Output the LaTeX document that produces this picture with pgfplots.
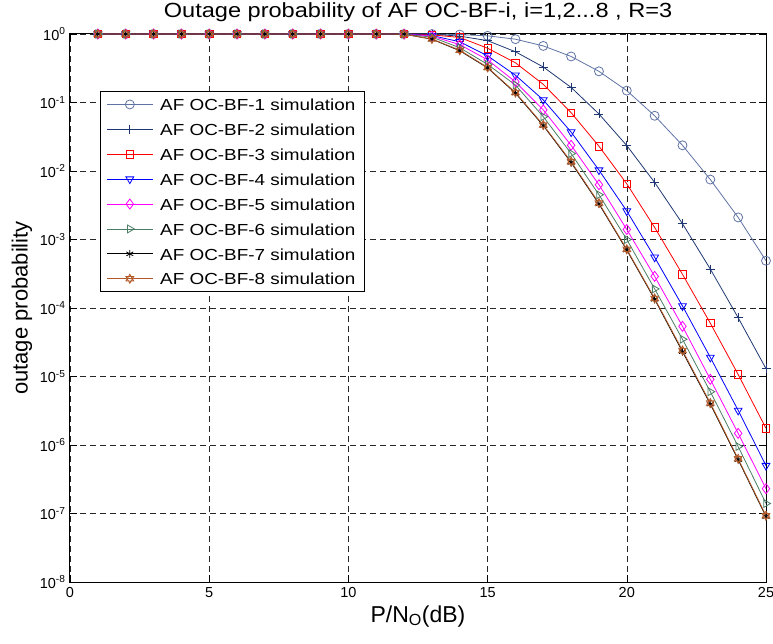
\documentclass[border=0pt]{standalone}
\usepackage{fontspec}
\setmainfont{Liberation Sans}
\newfontfamily\legfont[FakeStretch=1.18]{Liberation Sans}
\newfontfamily\titfont[FakeStretch=1.15]{Liberation Sans}
\usepackage{pgfplots}
\pgfplotsset{compat=1.18}
\usepackage{pgfplotstable}

\definecolor{cA}{RGB}{95,115,165}
\definecolor{cB}{RGB}{30,55,115}
\definecolor{cC}{RGB}{255,0,0}
\definecolor{cD}{RGB}{0,0,255}
\definecolor{cE}{RGB}{255,0,255}
\definecolor{cF}{RGB}{75,125,100}
\definecolor{cG}{RGB}{0,0,0}
\definecolor{cH}{RGB}{180,90,40}

\pgfdeclareplotmark{hexagram}{%
  \pgfpathmoveto{\pgfqpointpolar{90}{\pgfplotmarksize}}%
  \pgfpathlineto{\pgfqpointpolar{210}{\pgfplotmarksize}}%
  \pgfpathlineto{\pgfqpointpolar{330}{\pgfplotmarksize}}%
  \pgfpathclose
  \pgfpathmoveto{\pgfqpointpolar{270}{\pgfplotmarksize}}%
  \pgfpathlineto{\pgfqpointpolar{30}{\pgfplotmarksize}}%
  \pgfpathlineto{\pgfqpointpolar{150}{\pgfplotmarksize}}%
  \pgfpathclose
  \pgfusepathqstroke}

\pgfplotstableread{
x  c1      c2      c3      c4      c5      c6      c7      c8
1  1       1       1       1       1       1       1       1
2  1       1       1       1       1       1       1       1
3  1       1       1       1       1       1       1       1
4  1       1       1       1       1       1       1       1
5  1       1       1       1       1       1       1       1
6  1       1       1       1       1       1       1       1
7  1       1       1       1       1       1       1       1
8  1       1       1       1       1       1       1       1
9  1       1       1       1       1       1       1       1
10 1       1       1       1       1       1       1       1
11 1       1       1       1       1       1       1       1
12 1       1       1       0.999   0.997   0.995   0.995   0.995
13 1       0.995   0.97    0.95    0.93    0.90    0.84    0.845
14 0.98    0.93    0.89    0.77    0.70    0.63    0.57    0.58
15 0.94    0.80    0.62    0.48    0.42    0.36    0.32    0.325
16 0.84    0.55    0.38    0.25    0.20    0.18    0.137   0.14
17 0.67    0.33    0.184   0.109   0.078   0.062   0.046   0.047
18 0.47    0.166   0.071   0.037   0.0237  0.018   0.0133  0.0137
19 0.285   0.068   0.023   0.0103  0.0063  0.0045  0.0033  0.0034
20 0.149   0.0235  0.0065  0.0026  0.0014  1.0e-3  7.0e-4  7.2e-4
21 0.064   0.0068  0.0015  5.5e-4  2.9e-4  1.9e-4  1.34e-4 1.38e-4
22 0.0237  0.0017  3.1e-4  1.07e-4 5.4e-5  3.5e-5  2.3e-5  2.4e-5
23 0.0075  3.7e-4  6.0e-5  1.9e-5  9.1e-6  6.0e-6  3.95e-6 4.1e-6
24 0.0021  7.2e-5  1.07e-5 3.2e-6  1.48e-6 9.5e-7  6.1e-7  6.3e-7
25 4.9e-4  1.3e-5  1.75e-6 5.0e-7  2.3e-7  1.4e-7  9.0e-8  9.3e-8
}\data

\begin{document}
\begin{tikzpicture}
\begin{axis}[
  name=ax,
  scale only axis, width=696pt, height=548pt,
  xmin=0, xmax=25,
  ymode=log, log basis y=10, ymin=1e-8, ymax=1,
  clip=false,
  xtick={0,5,10,15,20,25},
  xticklabels={0,5,10,15,20,25},
  ytick={1e-8,1e-7,1e-6,1e-5,1e-4,1e-3,1e-2,1e-1,1},
  yticklabels={10\textsuperscript{-8},10\textsuperscript{-7},10\textsuperscript{-6},10\textsuperscript{-5},10\textsuperscript{-4},10\textsuperscript{-3},10\textsuperscript{-2},10\textsuperscript{-1},10\textsuperscript{0}},
  grid=both,
  major grid style={black!85, dash pattern=on 6pt off 4pt, line width=0.6pt},
  minor grid style={black!55, dash pattern=on 1.2pt off 8pt, line width=0.6pt},
  tick style={black, line width=0.6pt},
  major tick length=7pt, minor tick length=4pt,
  axis line style={black, line width=1pt},
  tick label style={font=\fontsize{14.5}{16}\selectfont},
  xticklabel style={yshift=-2pt},
  yticklabel style={xshift=-1pt},
  title={Outage probability of AF OC-BF-i, i=1,2...8 , R=3},
  title style={font=\titfont\fontsize{20.5}{22}\selectfont, at={(axis description cs:0.5,1)}, anchor=base, yshift=10.5pt},
  xlabel={P/N\textsubscript{O}(dB)},
  xlabel style={font=\fontsize{23}{25}\selectfont, at={(axis description cs:0.5,0)}, anchor=base, yshift=-40pt},
  ylabel={outage probability},
  ylabel style={font=\fontsize{22}{24}\selectfont, at={(axis description cs:-0.069,0.5)}, anchor=center},
  legend style={at={(axis description cs:0.043,0.896)}, anchor=north west,
    font=\legfont\fontsize{16}{18}\selectfont, draw=black, line width=1pt, fill=white,
    inner xsep=6pt, inner ysep=0.5pt, column sep=3.5pt,
    nodes={inner xsep=3.5pt, inner ysep=6.2pt, text height=12.5pt, text depth=0pt}},
  legend cell align=left,
  legend image code/.code={\draw[mark repeat=2,mark phase=2] plot coordinates {(0pt,0pt)(23pt,0pt)(46pt,0pt)};},
  every axis plot/.append style={line width=0.8pt},
]
\addplot[color=cA, mark=o, mark size=4.5pt] table[x=x,y=c1] {\data};
\addlegendentry{AF OC-BF-1 simulation}
\addplot[color=cB, mark=+, mark size=4.5pt] table[x=x,y=c2] {\data};
\addlegendentry{AF OC-BF-2 simulation}
\addplot[color=cC, mark=square, mark size=3.7pt] table[x=x,y=c3] {\data};
\addlegendentry{AF OC-BF-3 simulation}
\addplot[color=cD, mark=triangle, mark size=4.5pt, mark options={rotate=180}] table[x=x,y=c4] {\data};
\addlegendentry{AF OC-BF-4 simulation}
\addplot[color=cE, mark=diamond, mark size=5pt] table[x=x,y=c5] {\data};
\addlegendentry{AF OC-BF-5 simulation}
\addplot[color=cF, mark=triangle, mark size=4.5pt, mark options={rotate=-90}] table[x=x,y=c6] {\data};
\addlegendentry{AF OC-BF-6 simulation}
\addplot[color=cG, mark=asterisk, mark size=4pt] table[x=x,y=c7] {\data};
\addlegendentry{AF OC-BF-7 simulation}
\addplot[color=cH, mark=hexagram, mark size=4.5pt] table[x=x,y=c8] {\data};
\addlegendentry{AF OC-BF-8 simulation}
\end{axis}
\pgfresetboundingbox
\path ([xshift=-70pt,yshift=-62pt]ax.south west) rectangle ([xshift=7pt,yshift=34pt]ax.north east);
\end{tikzpicture}
\end{document}
